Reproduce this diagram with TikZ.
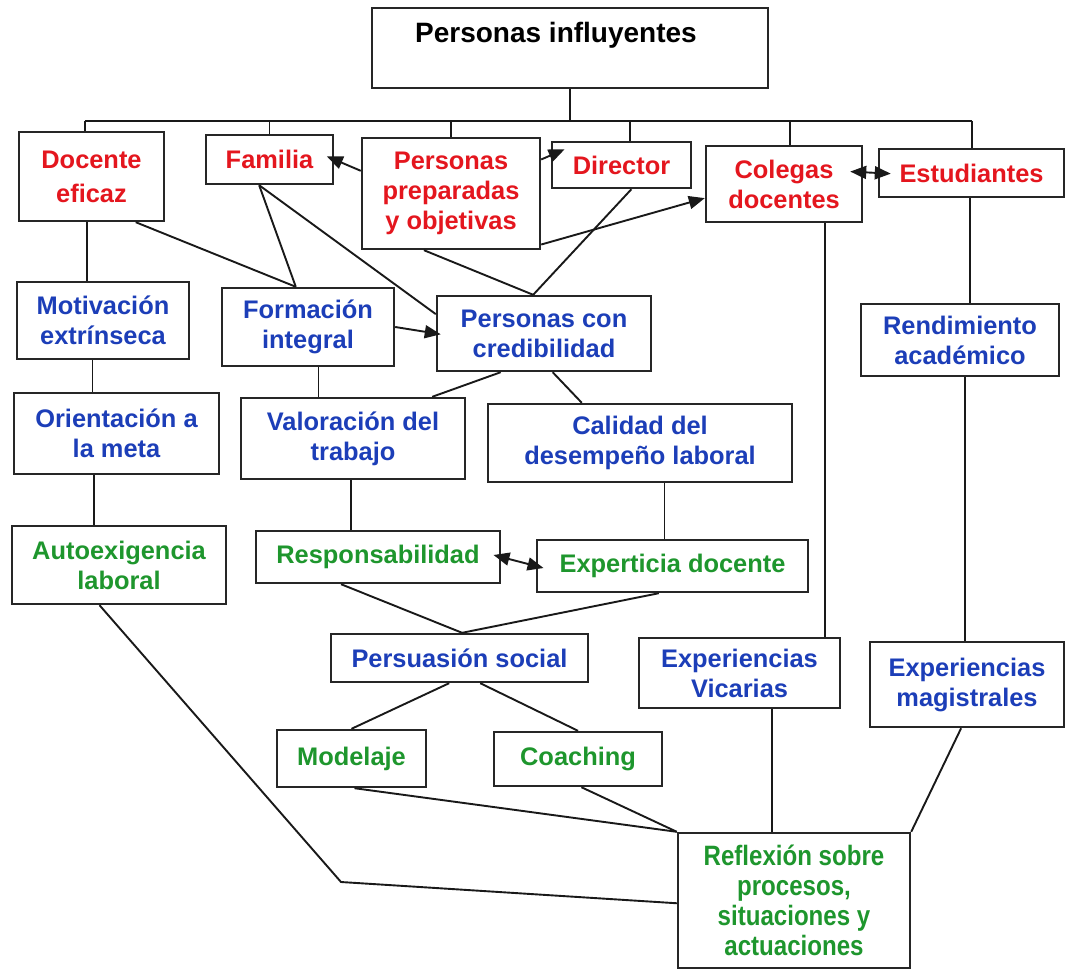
\documentclass[tikz,border=0pt]{standalone}
\usepackage{fontspec}
\setmainfont{Liberation Sans}
\newfontfamily\narrowfont{Liberation Sans}[FakeStretch=0.86]
\usetikzlibrary{arrows.meta,calc}
\definecolor{rojo}{RGB}{228,22,30}
\definecolor{azul}{RGB}{28,62,184}
\definecolor{verde}{RGB}{30,150,45}
\begin{document}
\begin{tikzpicture}[x=0.5pt,y=-0.5pt,
  box/.style={draw=black!85, line width=1.2pt, fill=white, rectangle, inner sep=0pt,
    align=center, font=\fontsize{12.7}{15}\selectfont\bfseries},
  rojob/.style={box,text=rojo},
  azulb/.style={box,text=azul},
  verdeb/.style={box,text=verde},
  link/.style={line width=0.95pt, draw=black!90},
  arr/.style={link,-{Triangle[length=8pt,width=6.5pt]}},
  darr/.style={link,{Triangle[length=8pt,width=6.5pt]}-{Triangle[length=8pt,width=6.5pt]}},
]
\useasboundingbox (0,0) rectangle (1068,973);

% ---------- boxes ----------
\node[box,minimum width=198pt,minimum height=40pt] (pi) at (570,48) {};
\node[font=\fontsize{14}{16}\selectfont\bfseries, inner sep=0pt] (pit) at ($(pi.north)+(-14,28)$) {Personas influyentes};

\node[rojob,minimum width=72.5pt,minimum height=44.5pt] (de) at (91.5,176.5) {Docente\\[2pt]eficaz};
\node[rojob,minimum width=63.5pt,minimum height=24.5pt] (fam) at (269.5,159.5) {Familia};
\node[rojob,minimum width=89pt,minimum height=55.5pt] (pp) at (451,193.5) {Personas\\preparadas\\y objetivas};
\node[rojob,minimum width=69.5pt,minimum height=23pt] (dir) at (621.5,165) {Director};
\node[rojob,minimum width=78pt,minimum height=38pt] (col) at (784,184) {Colegas\\docentes};
\node[rojob,minimum width=92.5pt,minimum height=24pt] (est) at (971.5,173) {Estudiantes};

\node[azulb,minimum width=86pt,minimum height=38.5pt] (mot) at (103,320.5) {Motivación\\extrínseca};
\node[azulb,minimum width=86pt,minimum height=39pt] (form) at (308,327) {Formación\\integral};
\node[azulb,minimum width=107pt,minimum height=37.5pt] (pcc) at (544,333.5) {Personas con\\credibilidad};
\node[azulb,minimum width=99pt,minimum height=36pt] (ra) at (960,340) {Rendimiento\\académico};

\node[azulb,minimum width=102.5pt,minimum height=40.5pt] (ori) at (116.5,433.5) {Orientación a\\la meta};
\node[azulb,minimum width=112pt,minimum height=40.5pt] (val) at (353,438.5) {Valoración del\\trabajo};
\node[azulb,minimum width=152pt,minimum height=39pt] (cal) at (640,443) {Calidad del\\desempeño laboral};

\node[verdeb,minimum width=107pt,minimum height=39pt] (aut) at (119,565) {Autoexigencia\\laboral};
\node[verdeb,minimum width=122pt,minimum height=26pt] (resp) at (378,557) {Responsabilidad};
\node[verdeb,minimum width=135.5pt,minimum height=26pt] (exp) at (672.5,566) {Experticia docente};

\node[azulb,minimum width=128.5pt,minimum height=24pt] (pers) at (459.5,658) {Persuasión social};
\node[azulb,minimum width=100.5pt,minimum height=35pt] (ev) at (739.5,673) {Experiencias\\Vicarias};
\node[azulb,minimum width=97pt,minimum height=42.5pt] (em) at (967,684.5) {Experiencias\\magistrales};

\node[verdeb,minimum width=74.5pt,minimum height=28.5pt] (mod) at (351.5,758.5) {Modelaje};
\node[verdeb,minimum width=84pt,minimum height=27pt] (coa) at (578,759) {Coaching};

\node[box,text=verde,font=\narrowfont\fontsize{14}{15}\selectfont\bfseries,
      minimum width=116pt,minimum height=67.5pt] (ref) at (794,900.5)
      {Reflexión sobre\\procesos,\\situaciones y\\actuaciones};

% ---------- distribution bar under the title ----------
\coordinate (hub) at (570,121);
\coordinate (bL) at (85,121);
\coordinate (bR) at (972,121);
\coordinate (tDir) at (630,121);
\coordinate (tCol) at (790,121);
\draw[link] (pi.south) -- (hub);
\draw[link] (bL) -- (bR);
\draw[link] (bL) -- (bL |- de.north);
\draw[link] (fam.north |- bL) -- (fam.north);
\draw[link] (pp.north |- bL) -- (pp.north);
\draw[link] (tDir) -- (tDir |- dir.north);
\draw[link] (tCol) -- (tCol |- col.north);
\draw[link] (bR) -- (bR |- est.north);

% ---------- arrows among the first row ----------
\draw[arr, shorten >=-4pt] ($(pp.north west)!0.3!(pp.south west)$) -- (fam.east);
\draw[arr, shorten >=-7.5pt] ($(pp.north east)!0.2!(pp.south east)$) -- ($(dir.north west)!0.3!(dir.south west)$);
\draw[arr] ($(pp.north east)!0.95!(pp.south east)$) -- ($(col.north west)!0.68!(col.south west)$);
\draw[darr, shorten <=-6.5pt, shorten >=-6.5pt] ($(col.north east)!0.35!(col.south east)$) -- (est.west);

% ---------- first row to second row ----------
\coordinate (fTop) at ($(form.north west)!0.43!(form.north east)$);
\coordinate (famB) at ($(fam.south west)!0.42!(fam.south east)$);
\coordinate (pTop) at ($(pcc.north west)!0.45!(pcc.north east)$);
\draw[link] ($(de.south west)!0.8!(de.south east)$) -- (fTop);
\draw[link] (famB) -- (fTop);
\draw[link] (famB) -- ($(pcc.north west)!0.25!(pcc.south west)$);
\draw[link] ($(pp.south west)!0.35!(pp.south east)$) -- (pTop);
\draw[link] ($(dir.south west)!0.57!(dir.south east)$) -- (pTop);
\draw[arr, shorten >=-2.5pt] (form.east) -- (pcc.west);

\coordinate (d1) at ($(de.south west)!0.47!(de.south east)$);
\draw[link] (d1) -- (d1 |- mot.north);

% ---------- vertical chains ----------
\coordinate (m1) at ($(mot.south west)!0.44!(mot.south east)$);
\draw[link] (m1) -- (m1 |- ori.north);
\coordinate (o1) at ($(ori.south west)!0.39!(ori.south east)$);
\draw[link] (o1) -- (o1 |- aut.north);
\coordinate (f1) at ($(form.south west)!0.56!(form.south east)$);
\draw[link] (f1) -- (f1 |- val.north);
\coordinate (v1) at ($(val.south west)!0.49!(val.south east)$);
\draw[link] (v1) -- (v1 |- resp.north);
\coordinate (c1) at ($(cal.south west)!0.58!(cal.south east)$);
\draw[link] (c1) -- (c1 |- exp.north);
\coordinate (k1) at ($(col.south west)!0.76!(col.south east)$);
\draw[link] (k1) -- (k1 |- ev.north);
\coordinate (e1) at ($(est.south west)!0.49!(est.south east)$);
\draw[link] (e1) -- (e1 |- ra.north);
\coordinate (r1) at ($(ra.south west)!0.525!(ra.south east)$);
\draw[link] (r1) -- (r1 |- em.north);
\coordinate (x1) at ($(ev.south west)!0.66!(ev.south east)$);
\draw[link] (x1) -- (x1 |- ref.north);

% ---------- credibility to third row ----------
\draw[link] ($(pcc.south west)!0.3!(pcc.south east)$) -- ($(val.north west)!0.85!(val.north east)$);
\draw[link] ($(pcc.south west)!0.54!(pcc.south east)$) -- ($(cal.north west)!0.31!(cal.north east)$);

% ---------- responsibility and expertise ----------
\draw[darr, shorten <=-4pt, shorten >=-4pt] (resp.east) -- (exp.west);
\coordinate (psTop) at ($(pers.north west)!0.51!(pers.north east)$);
\draw[link] ($(resp.south west)!0.35!(resp.south east)$) -- (psTop);
\draw[link] ($(exp.south west)!0.45!(exp.south east)$) -- (psTop);

% ---------- social persuasion ----------
\draw[link] ($(pers.south west)!0.46!(pers.south east)$) -- (mod.north);
\draw[link] ($(pers.south west)!0.58!(pers.south east)$) -- (coa.north);

% ---------- into the reflection box ----------
\coordinate (bend) at (341,882);
\draw[link] ($(mod.south west)!0.52!(mod.south east)$) -- (ref.north west);
\draw[link] ($(coa.south west)!0.52!(coa.south east)$) -- (ref.north west);
\draw[link] ($(em.south west)!0.47!(em.south east)$) -- (ref.north east);
\draw[link] ($(aut.south west)!0.41!(aut.south east)$) -- (bend) -- ($(ref.north west)!0.52!(ref.south west)$);
\end{tikzpicture}
\end{document}
